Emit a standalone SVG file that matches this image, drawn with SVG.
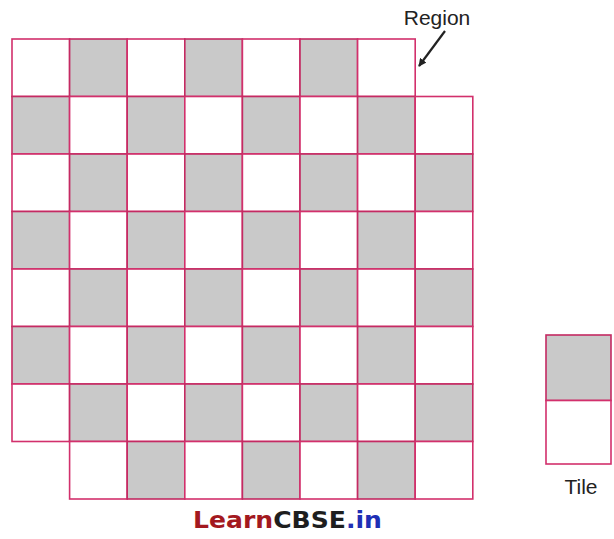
<svg xmlns="http://www.w3.org/2000/svg" width="614" height="539" viewBox="0 0 614 539">
<defs>
<style>
.w{fill:#ffffff;stroke:#d2306c;stroke-width:1.6}
.g{fill:#c9c9c9;stroke:#c42a62;stroke-width:1.6}
.lbl{font-family:"Liberation Sans",Arial,sans-serif;font-size:21px;fill:#222}
.wm{font-family:"DejaVu Sans","Liberation Sans",sans-serif;font-weight:bold;font-size:23px}
</style>
<marker id="ah" viewBox="0 0 10 10" refX="9" refY="5" markerWidth="8" markerHeight="8" orient="auto-start-reverse" markerUnits="userSpaceOnUse">
<path d="M0,0 L10,5 L0,10 z" fill="#222"/>
</marker>
</defs>
<rect width="614" height="539" fill="#ffffff"/>
<g id="region">
<g id="row0">
<rect class="w" x="12" y="39" width="57.6" height="57.5"/>
<rect class="g" x="69.6" y="39" width="57.6" height="57.5"/>
<rect class="w" x="127.2" y="39" width="57.6" height="57.5"/>
<rect class="g" x="184.8" y="39" width="57.6" height="57.5"/>
<rect class="w" x="242.4" y="39" width="57.6" height="57.5"/>
<rect class="g" x="300" y="39" width="57.6" height="57.5"/>
<rect class="w" x="357.6" y="39" width="57.6" height="57.5"/>
</g>
<g id="row1">
<rect class="g" x="12" y="96.5" width="57.6" height="57.5"/>
<rect class="w" x="69.6" y="96.5" width="57.6" height="57.5"/>
<rect class="g" x="127.2" y="96.5" width="57.6" height="57.5"/>
<rect class="w" x="184.8" y="96.5" width="57.6" height="57.5"/>
<rect class="g" x="242.4" y="96.5" width="57.6" height="57.5"/>
<rect class="w" x="300" y="96.5" width="57.6" height="57.5"/>
<rect class="g" x="357.6" y="96.5" width="57.6" height="57.5"/>
<rect class="w" x="415.2" y="96.5" width="57.6" height="57.5"/>
</g>
<g id="row2">
<rect class="w" x="12" y="154" width="57.6" height="57.5"/>
<rect class="g" x="69.6" y="154" width="57.6" height="57.5"/>
<rect class="w" x="127.2" y="154" width="57.6" height="57.5"/>
<rect class="g" x="184.8" y="154" width="57.6" height="57.5"/>
<rect class="w" x="242.4" y="154" width="57.6" height="57.5"/>
<rect class="g" x="300" y="154" width="57.6" height="57.5"/>
<rect class="w" x="357.6" y="154" width="57.6" height="57.5"/>
<rect class="g" x="415.2" y="154" width="57.6" height="57.5"/>
</g>
<g id="row3">
<rect class="g" x="12" y="211.5" width="57.6" height="57.5"/>
<rect class="w" x="69.6" y="211.5" width="57.6" height="57.5"/>
<rect class="g" x="127.2" y="211.5" width="57.6" height="57.5"/>
<rect class="w" x="184.8" y="211.5" width="57.6" height="57.5"/>
<rect class="g" x="242.4" y="211.5" width="57.6" height="57.5"/>
<rect class="w" x="300" y="211.5" width="57.6" height="57.5"/>
<rect class="g" x="357.6" y="211.5" width="57.6" height="57.5"/>
<rect class="w" x="415.2" y="211.5" width="57.6" height="57.5"/>
</g>
<g id="row4">
<rect class="w" x="12" y="269" width="57.6" height="57.5"/>
<rect class="g" x="69.6" y="269" width="57.6" height="57.5"/>
<rect class="w" x="127.2" y="269" width="57.6" height="57.5"/>
<rect class="g" x="184.8" y="269" width="57.6" height="57.5"/>
<rect class="w" x="242.4" y="269" width="57.6" height="57.5"/>
<rect class="g" x="300" y="269" width="57.6" height="57.5"/>
<rect class="w" x="357.6" y="269" width="57.6" height="57.5"/>
<rect class="g" x="415.2" y="269" width="57.6" height="57.5"/>
</g>
<g id="row5">
<rect class="g" x="12" y="326.5" width="57.6" height="57.5"/>
<rect class="w" x="69.6" y="326.5" width="57.6" height="57.5"/>
<rect class="g" x="127.2" y="326.5" width="57.6" height="57.5"/>
<rect class="w" x="184.8" y="326.5" width="57.6" height="57.5"/>
<rect class="g" x="242.4" y="326.5" width="57.6" height="57.5"/>
<rect class="w" x="300" y="326.5" width="57.6" height="57.5"/>
<rect class="g" x="357.6" y="326.5" width="57.6" height="57.5"/>
<rect class="w" x="415.2" y="326.5" width="57.6" height="57.5"/>
</g>
<g id="row6">
<rect class="w" x="12" y="384" width="57.6" height="57.5"/>
<rect class="g" x="69.6" y="384" width="57.6" height="57.5"/>
<rect class="w" x="127.2" y="384" width="57.6" height="57.5"/>
<rect class="g" x="184.8" y="384" width="57.6" height="57.5"/>
<rect class="w" x="242.4" y="384" width="57.6" height="57.5"/>
<rect class="g" x="300" y="384" width="57.6" height="57.5"/>
<rect class="w" x="357.6" y="384" width="57.6" height="57.5"/>
<rect class="g" x="415.2" y="384" width="57.6" height="57.5"/>
</g>
<g id="row7">
<rect class="w" x="69.6" y="441.5" width="57.6" height="57.5"/>
<rect class="g" x="127.2" y="441.5" width="57.6" height="57.5"/>
<rect class="w" x="184.8" y="441.5" width="57.6" height="57.5"/>
<rect class="g" x="242.4" y="441.5" width="57.6" height="57.5"/>
<rect class="w" x="300" y="441.5" width="57.6" height="57.5"/>
<rect class="g" x="357.6" y="441.5" width="57.6" height="57.5"/>
<rect class="w" x="415.2" y="441.5" width="57.6" height="57.5"/>
</g>
</g>
<g id="region-label">
<text class="lbl" x="437" y="25" text-anchor="middle">Region</text>
</g>
<g id="tile">
<rect class="g" x="546" y="335" width="65" height="65.5"/>
<rect class="w" x="546" y="400.5" width="65" height="63.5"/>
<text class="lbl" x="581" y="494" text-anchor="middle">Tile</text>
</g>
<g id="connectors">
<line x1="445" y1="31" x2="419" y2="66" stroke="#222" stroke-width="2.2" marker-end="url(#ah)"/>
</g>
<g id="watermark">
<text class="wm" x="193" y="528" textLength="189" lengthAdjust="spacingAndGlyphs"><tspan fill="#a3191f">Learn</tspan><tspan fill="#1e1e1e">CBSE</tspan><tspan fill="#1f2fb5">.in</tspan></text>
</g>
</svg>
